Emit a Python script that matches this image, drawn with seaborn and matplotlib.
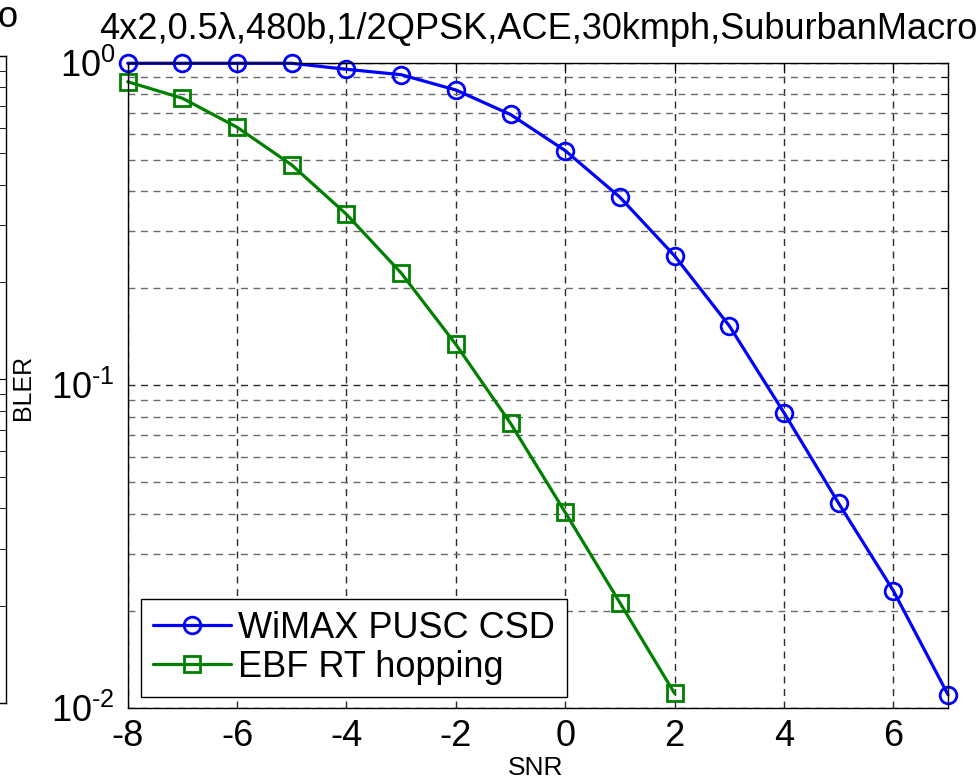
import numpy as np
import pandas as pd
import matplotlib
matplotlib.use('Agg')
import matplotlib.pyplot as plt
import matplotlib.ticker as mticker
import seaborn as sns

# dados
snr = [-8, -7, -6, -5, -4, -3, -2, -1, 0, 1, 2, 3, 4, 5, 6, 7]
bler_wimax = [0.996, 0.996, 0.996, 0.996, 0.954, 0.918, 0.823, 0.691, 0.534,
              0.383, 0.252, 0.153, 0.0823, 0.0431, 0.0231, 0.0110]
snr_ebf = [-8, -7, -6, -5, -4, -3, -2, -1, 0, 1, 2]
bler_ebf = [0.873, 0.776, 0.631, 0.482, 0.339, 0.223, 0.134, 0.0763, 0.0404,
            0.0212, 0.0111]
labels = ['WiMAX PUSC CSD', 'EBF RT hopping']
cores = ['#0000FF', '#008000']
titulo = '4x2,0.5\u03bb,480b,1/2QPSK,ACE,30kmph,SuburbanMacro'

sns.set_style('white')
plt.rcParams['font.family'] = ['Liberation Sans', 'DejaVu Sans']
plt.rcParams['mathtext.fontset'] = 'custom'
plt.rcParams['mathtext.rm'] = 'Liberation Sans'
plt.rcParams['axes.unicode_minus'] = False
plt.rcParams['text.color'] = 'black'
plt.rcParams['axes.labelcolor'] = 'black'
plt.rcParams['xtick.color'] = 'black'
plt.rcParams['ytick.color'] = 'black'

fig = plt.figure(figsize=(9.79, 7.79), dpi=100)

# pedaco do subplot vizinho (cortado na esquerda)
ax0 = fig.add_axes([0.00613 - 0.86, 0.0976, 0.86, 0.8305])
ax0.set_yscale('log')
ax0.set_ylim(1e-2, 1)
ax0.set_xlim(0, 1)
ax0.set_xticks([])
ax0.tick_params(axis='y', which='both', direction='in', left=True, right=True,
                labelleft=False)
ax0.tick_params(axis='y', which='major', length=7)
ax0.tick_params(axis='y', which='minor', length=6)
for s in ax0.spines.values():
    s.set_color('black')
    s.set_linewidth(1.0)
fig.text(19 / 979, 1 - 27 / 779, 'SuburbanMacro', ha='right', va='baseline',
         fontsize=26)

# grafico principal
ax = fig.add_axes([127.7 / 979, 1 - 708 / 779, 820.3 / 979, 645.3 / 779])
df1 = pd.DataFrame({'SNR': snr, 'BLER': bler_wimax})
df2 = pd.DataFrame({'SNR': snr_ebf, 'BLER': bler_ebf})
sns.lineplot(data=df1, x='SNR', y='BLER', ax=ax, color=cores[0], marker='o',
             markersize=12, markerfacecolor='none', markeredgecolor=cores[0],
             markeredgewidth=2.0, linewidth=2.3, label=labels[0], clip_on=False)
sns.lineplot(data=df2, x='SNR', y='BLER', ax=ax, color=cores[1], marker='s',
             markersize=11, markerfacecolor='none', markeredgecolor=cores[1],
             markeredgewidth=2.0, linewidth=2.3, label=labels[1], clip_on=False)

ax.set_yscale('log')
ax.set_ylim(1e-2, 1)
ax.set_xlim(-8, 7)
ax.set_xticks(np.arange(-8, 7, 2))
ax.yaxis.set_major_locator(mticker.LogLocator(base=10))
ax.yaxis.set_minor_locator(mticker.LogLocator(base=10, subs=np.arange(2, 10)))
ax.yaxis.set_minor_formatter(mticker.NullFormatter())


def fmt_log(v, pos):
    e = int(round(np.log10(v)))
    if e < 0:
        return r'$\mathdefault{10^{\text{-}%d}}$' % (-e)
    return r'$\mathdefault{10^{%d}}$' % e


ax.yaxis.set_major_formatter(mticker.FuncFormatter(fmt_log))

ax.grid(True, which='major', axis='both', color='#2a2a2a', linestyle=(0, (5, 4)),
        linewidth=1.0)
ax.grid(True, which='minor', axis='y', color='#6a6a6a', linestyle=(0, (5, 4)),
        linewidth=1.0)
ax.set_axisbelow(True)

ax.tick_params(axis='both', which='both', direction='in', top=True, right=True,
               labelsize=26, color='black', labelcolor='black')
ax.tick_params(axis='x', which='major', length=7, pad=8)
ax.tick_params(axis='y', which='major', length=7, pad=9)
ax.tick_params(axis='y', which='minor', length=5)
for s in ax.spines.values():
    s.set_color('black')
    s.set_linewidth(1.0)

ax.set_title(titulo, fontsize=26, pad=17)
ax.set_xlabel('SNR', fontsize=19)
ax.set_ylabel('BLER', fontsize=18)
ax.xaxis.set_label_coords(0.497, -0.075)
ax.yaxis.set_label_coords(-0.113, 0.497)

leg = ax.legend(loc='lower left', bbox_to_anchor=(0.0162, 0.017),
                borderaxespad=0, fontsize=26, frameon=True, fancybox=False,
                handlelength=2.15, handletextpad=0.22, labelspacing=0.12,
                borderpad=0.33)
leg.get_frame().set_edgecolor('black')
leg.get_frame().set_linewidth(1.0)
leg.get_frame().set_alpha(1)

plt.savefig('out.png', dpi=100)
